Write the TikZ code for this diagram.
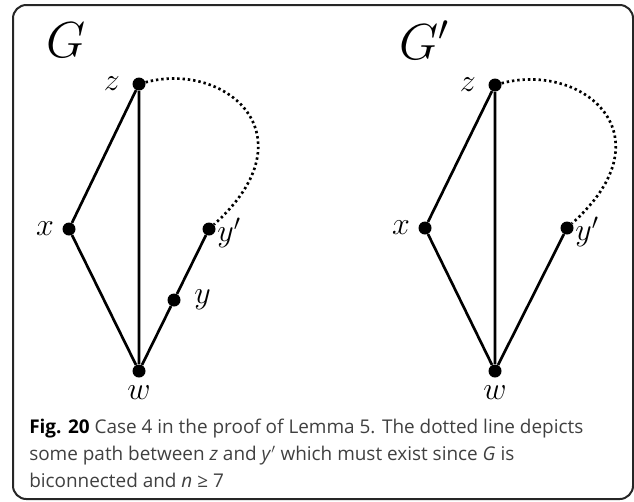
\RequirePackage{fix-cm}
\documentclass[tikz,border=0pt]{standalone}
\usepackage{fontspec}
\setsansfont{Open Sans}
\usetikzlibrary{positioning}
\definecolor{captext}{gray}{0.25}
\tikzset{
    vert/.style={circle, fill=black, inner sep=0pt, minimum size=9.75pt},
    edge/.style={line width=2pt},
    pathdots/.style={line width=2pt, dash pattern=on 1.8pt off 2.2pt},
    lab/.style={font=\fontsize{24}{28}\selectfont, inner sep=0pt},
    gname/.style={font=\fontsize{38}{42}\selectfont, inner sep=0pt},
    captxt/.style={anchor=base west, inner sep=0pt, text=captext,
        font=\sffamily\fontsize{14.2}{18}\selectfont}
}
\begin{document}
\begin{tikzpicture}[x=0.75pt, y=-0.75pt]
    \useasboundingbox (0,0) rectangle (634,501);
    \draw[line width=1.5pt, color=black!85, rounded corners=10pt] (13,5) rectangle (633,499);
    % graph G
    \node[gname] (g) at (66,40) {$G$};
    \node[vert, label={[lab, label distance=9pt]left:$z$}] (z) at (139,84) {};
    \node[vert, label={[lab, label distance=6pt]left:$x$}] (x) at (69,229) {};
    \node[vert, label={[lab, label distance=1pt, yshift=-3pt]right:$y'$}] (yp) at (209,229) {};
    \node[vert, label={[lab, label distance=10pt]right:$y$}] (y) at (174,300) {};
    \node[vert, label={[lab, label distance=6pt]below:$w$}] (w) at (139,371) {};
    \draw[edge] (z) -- (x) -- (w) -- (z);
    \draw[edge] (w) -- (y) -- (yp);
    \draw[pathdots] (z) .. controls +(15:67.5pt) and +(42:105pt) .. (yp);
    % graph G'
    \node[gname] (gp) at (424,40) {$G'$};
    \node[vert, label={[lab, label distance=9pt]left:$z$}] (z2) at (495,85) {};
    \node[vert, label={[lab, label distance=6pt]left:$x$}] (x2) at (425,228) {};
    \node[vert, label={[lab, label distance=1pt, yshift=-3pt]right:$y'$}] (yp2) at (567,228) {};
    \node[vert, label={[lab, label distance=6pt]below:$w$}] (w2) at (495,371) {};
    \draw[edge] (z2) -- (x2) -- (w2) -- (z2);
    \draw[edge] (w2) -- (yp2);
    \draw[pathdots] (z2) .. controls +(15:67.5pt) and +(42:105pt) .. (yp2);
    % caption
    \node[captxt] (cap1) at (29,433) {\textcolor{black}{\bfseries Fig. 20} Case 4 in the proof of Lemma 5. The dotted line depicts};
    \node[captxt] (cap2) at (29,460) {some path between \textit{z} and \textit{y}$'$ which must exist since \textit{G} is};
    \node[captxt] (cap3) at (29,487) {biconnected and \textit{n} ≥ 7};
\end{tikzpicture}
\end{document}
